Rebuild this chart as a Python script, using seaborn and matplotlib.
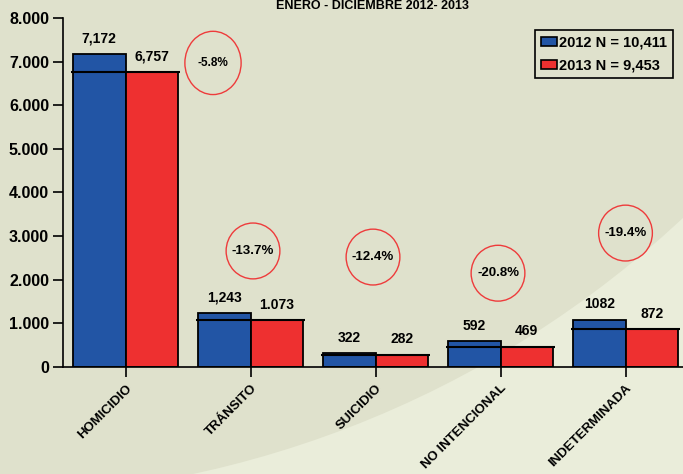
import pandas as pd
import matplotlib.pyplot as plt
import seaborn as sns
from matplotlib.patches import Ellipse, Patch
from matplotlib.ticker import FuncFormatter

# data
categories = ["HOMICIDIO", "TRÁNSITO", "SUICIDIO", "NO INTENCIONAL", "INDETERMINADA"]
vals_2012 = [7172, 1243, 322, 592, 1082]
vals_2013 = [6757, 1073, 282, 469, 872]
labels_2012 = ["7,172", "1,243", "322", "592", "1082"]
labels_2013 = ["6,757", "1.073", "282", "469", "872"]
pct_change = ["-5.8%", "-13.7%", "-12.4%", "-20.8%", "-19.4%"]
legend_labels = ["2012 N = 10,411", "2013 N = 9,453"]
title = "ENERO - DICIEMBRE 2012- 2013"

# where the red circles sit (x in category units, y in chart units)
circle_x = [0.70, 1.02, 1.98, 2.98, 4.00]
circle_y = [6970, 2660, 2520, 2150, 3070]

blue = "#2255a5"
red = "#ee3030"
bg_dark = "#dfe1cc"
bg_light = "#eaedda"

df = pd.DataFrame({
    "cat": categories * 2,
    "val": vals_2012 + vals_2013,
    "year": ["2012"] * 5 + ["2013"] * 5,
})

sns.set_style("white")
plt.rcParams["font.family"] = ["Liberation Sans", "DejaVu Sans"]
plt.rcParams["font.weight"] = "bold"
plt.rcParams["text.color"] = "black"
plt.rcParams["xtick.color"] = "black"
plt.rcParams["ytick.color"] = "black"

fig = plt.figure(figsize=(6.83, 4.74), dpi=100)
fig.patch.set_facecolor(bg_light)

# background axes: darker field with a lighter swoosh bottom right
bg = fig.add_axes([0, 0, 1, 1], zorder=-10)
bg.set_xlim(0, 683)
bg.set_ylim(474, 0)
bg.axis("off")
bg.add_patch(Ellipse((-24, -538), 2 * 1035, 2 * 1035, facecolor=bg_dark, edgecolor="none"))

ax = fig.add_axes([63 / 683, 107 / 474, 620 / 683, 349 / 474], zorder=1)
ax.set_facecolor("none")

sns.barplot(data=df, x="cat", y="val", hue="year", palette=[blue, red], saturation=1,
            width=0.84, edgecolor="black", linewidth=1.3, ax=ax, legend=False)

ax.set_xlim(-0.5, -0.5 + 620 / 125)
ax.set_ylim(0, 8000)
ax.set_yticks(range(0, 8001, 1000))
ax.yaxis.set_major_formatter(FuncFormatter(lambda v, p: f"{int(v):,}".replace(",", ".")))

bars12 = ax.containers[0]
bars13 = ax.containers[1]

# black line across the blue bar at the red bar's height
for b1, b2, v in zip(bars12, bars13, vals_2013):
    ax.hlines(v, b1.get_x() - 0.015, b2.get_x() + b2.get_width() + 0.015,
              color="black", linewidth=1.5, zorder=3)

for bars, labs in [(bars12, labels_2012), (bars13, labels_2013)]:
    for b, lab in zip(bars, labs):
        ax.annotate(lab, (b.get_x() + b.get_width() / 2, b.get_height()),
                    xytext=(0, 6), textcoords="offset points",
                    ha="center", va="bottom", fontsize=10, fontweight="bold")

for i, (cx, cy, txt) in enumerate(zip(circle_x, circle_y, pct_change)):
    w, h = (0.45, 1450) if i == 0 else (0.43, 1280)
    ax.add_patch(Ellipse((cx, cy), w, h, facecolor="none",
                         edgecolor="#ee3b3b", linewidth=1, zorder=4))
    ax.text(cx, cy, txt, ha="center", va="center",
            fontsize=8.5 if i == 0 else 9.5, fontweight="bold")

ax.set_xlabel("")
ax.set_ylabel("")
ax.set_xticks(range(len(categories)))
ax.set_xticklabels(categories, rotation=45, ha="right", va="top",
                   rotation_mode="anchor", fontsize=9.5, fontweight="bold")
ax.tick_params(axis="x", length=7, width=1.2, color="black", pad=4, bottom=True)
ax.tick_params(axis="y", length=7, width=1.2, color="black", labelsize=11.5, left=True, pad=3)
for lab in ax.get_yticklabels():
    lab.set_fontweight("bold")

for s in ["top", "right"]:
    ax.spines[s].set_visible(False)
for s in ["left", "bottom"]:
    ax.spines[s].set_color("black")
    ax.spines[s].set_linewidth(1.2)

handles = [Patch(facecolor=blue, edgecolor="black", linewidth=1.2),
           Patch(facecolor=red, edgecolor="black", linewidth=1.2)]
leg = ax.legend(handles, legend_labels, loc="upper right",
                bbox_to_anchor=(673 / 683, 1 - 30 / 474), bbox_transform=fig.transFigure,
                frameon=True, fancybox=False, framealpha=1, facecolor=bg_dark,
                edgecolor="black", borderpad=0.4, labelspacing=0.6,
                handlelength=1.1, handleheight=0.6, handletextpad=0.15,
                borderaxespad=0, prop={"weight": "bold", "size": 10.5})
leg.get_frame().set_linewidth(1.2)

fig.text(372 / 683, 1.0, title, ha="center", va="top", fontsize=9, fontweight="bold")

fig.savefig("out.png", dpi=100, facecolor=fig.get_facecolor())
